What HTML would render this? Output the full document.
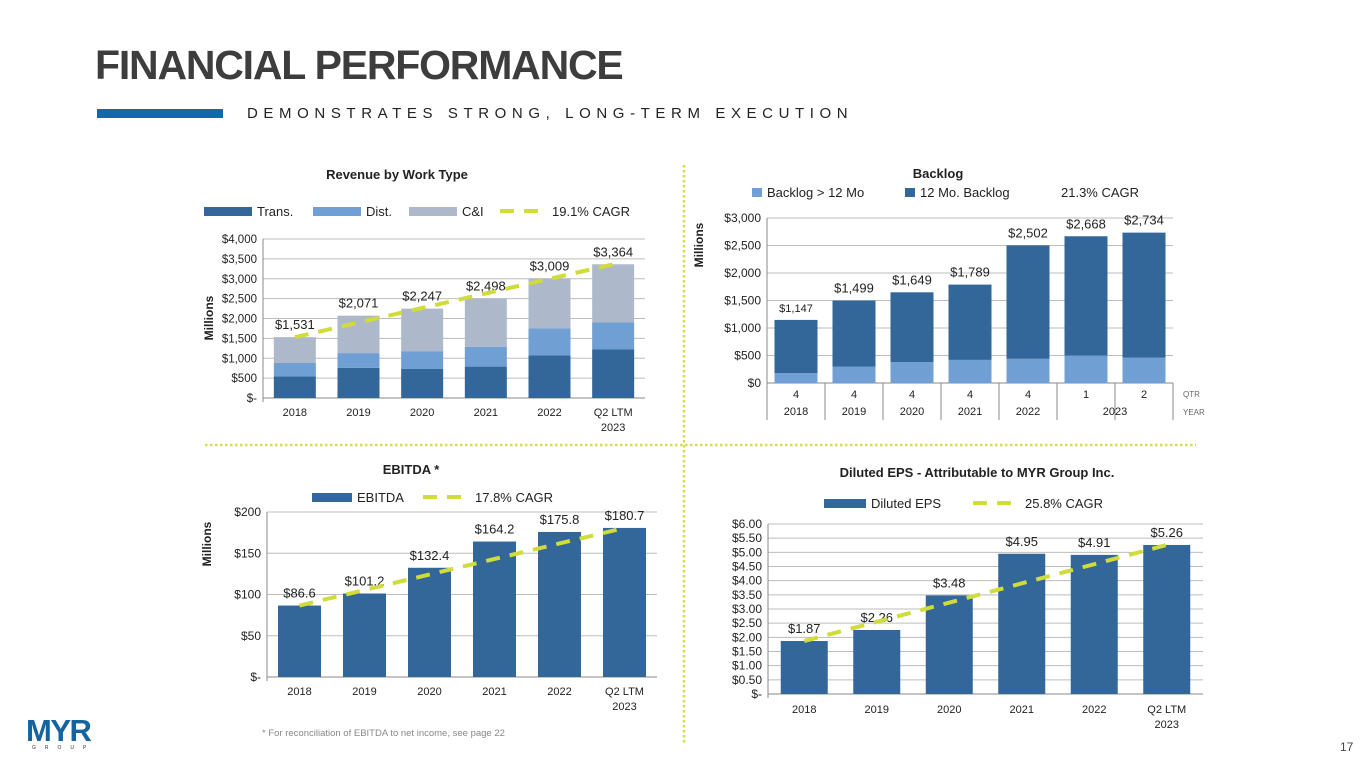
<!DOCTYPE html>
<html><head><meta charset="utf-8">
<style>
html,body{margin:0;padding:0;background:#fff;}
body{width:1365px;height:768px;position:relative;overflow:hidden;font-family:"Liberation Sans",sans-serif;}
.title{position:absolute;left:95px;top:42px;font-size:41px;font-weight:bold;color:#3d3d3d;letter-spacing:-1.2px;}
.bar{position:absolute;left:97px;top:109px;width:126px;height:9px;background:#0f6aa6;}
.sub{position:absolute;left:247px;top:105px;font-size:15px;letter-spacing:5.6px;color:#222;}
svg{position:absolute;left:0;top:0;}
</style></head><body>
<div class="title">FINANCIAL PERFORMANCE</div>
<div class="bar"></div>
<div class="sub">DEMONSTRATES STRONG, LONG-TERM EXECUTION</div>
<svg id="svg" width="1365" height="768" font-family="Liberation Sans, sans-serif">
  <line x1="684" y1="165" x2="684" y2="745" stroke="#d4df4a" stroke-width="2.5" stroke-dasharray="2.5,2.5"/>
  <line x1="205" y1="445" x2="1196" y2="445" stroke="#d4df4a" stroke-width="2.5" stroke-dasharray="2.5,2.5"/>
  <g>
    <text x="26" y="741" font-size="31" font-weight="bold" fill="#1464a0" letter-spacing="-1.5">MYR</text>
    <text x="32" y="749" font-size="5" fill="#333" letter-spacing="9">GROUP</text>
  </g>
  <text x="1340" y="751" font-size="12" fill="#444">17</text>
  <text x="262" y="736" font-size="9.5" fill="#888">* For reconciliation of EBITDA to net income, see page 22</text>
</svg>
<script>
// Revenue
const revCats = ["2018","2019","2020","2021","2022","Q2 LTM|2023"];
const revTrans = [540,760,730,790,1070,1220];
const revDist = [340,370,440,500,680,680];
const revTotal = [1531,2071,2247,2498,3009,3364];
const revLabels = ["$1,531","$2,071","$2,247","$2,498","$3,009","$3,364"];
const revTicks = [0,500,1000,1500,2000,2500,3000,3500,4000];
const revTickLabels = ["$-","$500","$1,000","$1,500","$2,000","$2,500","$3,000","$3,500","$4,000"];
// Backlog
const blQtr = ["4","4","4","4","4","1","2"];
const blYears = ["2018","2019","2020","2021","2022","2023"];
const blLong = [180,300,380,420,440,500,460];
const blTotal = [1147,1499,1649,1789,2502,2668,2734];
const blLabels = ["$1,147","$1,499","$1,649","$1,789","$2,502","$2,668","$2,734"];
const blTicks = [0,500,1000,1500,2000,2500,3000];
const blTickLabels = ["$0","$500","$1,000","$1,500","$2,000","$2,500","$3,000"];
// EBITDA
const ebCats = ["2018","2019","2020","2021","2022","Q2 LTM|2023"];
const ebVals = [86.6,101.2,132.4,164.2,175.8,180.7];
const ebLabels = ["$86.6","$101.2","$132.4","$164.2","$175.8","$180.7"];
const ebTicks = [0,50,100,150,200];
const ebTickLabels = ["$-","$50","$100","$150","$200"];
// EPS
const epsCats = ["2018","2019","2020","2021","2022","Q2 LTM|2023"];
const epsVals = [1.87,2.26,3.48,4.95,4.91,5.26];
const epsLabels = ["$1.87","$2.26","$3.48","$4.95","$4.91","$5.26"];
const epsTicks = [0,0.5,1,1.5,2,2.5,3,3.5,4,4.5,5,5.5,6];
const epsTickLabels = ["$-","$0.50","$1.00","$1.50","$2.00","$2.50","$3.00","$3.50","$4.00","$4.50","$5.00","$5.50","$6.00"];

const svg=document.getElementById('svg');
const NS="http://www.w3.org/2000/svg";
function mk(tag,attrs,parent){const e=document.createElementNS(NS,tag);for(const k in attrs)e.setAttribute(k,attrs[k]);(parent||svg).appendChild(e);return e;}
function txt(x,y,s,size,attrs,parent){const t=mk('text',Object.assign({x:x,y:y,'font-size':size,fill:'#222'},attrs||{}),parent);t.textContent=s;return t;}
const DARK="#336699", LIGHT="#6f9fd3", GREY="#adb9ca", CAGR="#cfdc3a";

function axes(g,cfg){
  const ys=v=>cfg.y0-(v-cfg.min)/(cfg.max-cfg.min)*(cfg.y0-cfg.y1);
  cfg.ticks.forEach((t,i)=>{
    const l=mk('line',{x1:cfg.x0,x2:cfg.x1,y1:ys(t),y2:ys(t),stroke:i===0?'#888':'#bdbdbd','stroke-width':1},g);
    
    
    const tl=txt(cfg.x0-6,ys(t)+4,cfg.tickLabels[i],cfg.tickSize||12,{'text-anchor':'end'},g);
    
    
  });
  mk('line',{x1:cfg.x0,x2:cfg.x0,y1:cfg.y1,y2:cfg.y0+4,stroke:'#888'},g);
  return ys;
}
function xlabels(g,cats,xc,y){
  cats.forEach((c,i)=>{
    const parts=c.split('|');
    parts.forEach((p,j)=>{
      const t=txt(xc(i),y+j*15,p,11,{'text-anchor':'middle'},g);
      
      
    });
  });
}
function cagrLine(g,xc,ys,first,last,n){
  const l=mk('line',{x1:xc(0),y1:ys(first),x2:xc(n-1),y2:ys(last),stroke:CAGR,'stroke-width':4,'stroke-dasharray':'14,10'},g);
  
  
}
function legendBox(g,x,y,w,color,label,name){
  const r=mk('rect',{x:x,y:y-9,width:w,height:9,fill:color},g);
  
  
  txt(x+w+5,y,label,13,{},g);
}
function legendDash(g,x,y,label){
  const l=mk('line',{x1:x,x2:x+45,y1:y-5,y2:y-5,stroke:CAGR,'stroke-width':4,'stroke-dasharray':'14,10'},g);
  
  
  txt(x+52,y,label,13,{},g);
}
function yTitle(g,x,y){
  txt(x,y,'Millions',12,{'font-weight':'bold',transform:`rotate(-90 ${x} ${y})`,'text-anchor':'middle'},g);
}

// ---- Revenue chart
(function(){
  const g=mk('g',{});
  
  
  txt(397,179,'Revenue by Work Type',13,{'font-weight':'bold','text-anchor':'middle'},g);
  legendBox(g,204,216,48,DARK,'Trans.','legend-trans');
  legendBox(g,313,216,48,LIGHT,'Dist.','legend-dist');
  legendBox(g,409,216,48,GREY,'C&I','legend-ci');
  legendDash(g,500,216,'19.1% CAGR');
  const x0=263,x1=645,n=revCats.length,step=(x1-x0)/n;
  const ys=axes(g,{x0:x0,x1:x1,y0:398,y1:239,min:0,max:4000,ticks:revTicks,tickLabels:revTickLabels,tickSize:11.5});
  const xc=i=>x0+step*(i+0.5);
  const bw=42;
  revCats.forEach((c,i)=>{
    const segs=[[0,revTrans[i],DARK,'bar-trans'],[revTrans[i],revTrans[i]+revDist[i],LIGHT,'bar-dist'],[revTrans[i]+revDist[i],revTotal[i],GREY,'bar-ci']];
    segs.forEach(s=>{
      const r=mk('rect',{x:xc(i)-bw/2,y:ys(s[1]),width:bw,height:ys(s[0])-ys(s[1]),fill:s[2]},g);
      
      
    });
    const t=txt(xc(i),ys(revTotal[i])-8,revLabels[i],13,{'text-anchor':'middle'},g);
    
    
  });
  cagrLine(g,xc,ys,revTotal[0],revTotal[n-1],n);
  xlabels(g,revCats,xc,416);
  yTitle(g,213,318);
})();

// ---- Backlog chart
(function(){
  const g=mk('g',{});
  
  
  txt(938,178,'Backlog',13,{'font-weight':'bold','text-anchor':'middle'},g);
  legendBox(g,752,197,10,LIGHT,'Backlog > 12 Mo','legend-backlog-long');
  legendBox(g,905,197,10,DARK,'12 Mo. Backlog','legend-backlog-12mo');
  txt(1061,197,'21.3% CAGR',13,{},g);
  const x0=767,x1=1173,n=blQtr.length,step=(x1-x0)/n;
  const ys=axes(g,{x0:x0,x1:x1,y0:383,y1:218,min:0,max:3000,ticks:blTicks,tickLabels:blTickLabels});
  const xc=i=>x0+step*(i+0.5);
  const bw=43;
  blQtr.forEach((q,i)=>{
    const r1=mk('rect',{x:xc(i)-bw/2,y:ys(blLong[i]),width:bw,height:ys(0)-ys(blLong[i]),fill:LIGHT},g);
    
    
    const r2=mk('rect',{x:xc(i)-bw/2,y:ys(blTotal[i]),width:bw,height:ys(blLong[i])-ys(blTotal[i]),fill:DARK},g);
    
    
    const t=txt(xc(i),ys(blTotal[i])-8,blLabels[i],i===0?11:13,{'text-anchor':'middle'},g);
    
    
    const qt=txt(xc(i),398,q,11,{'text-anchor':'middle'},g);
    
    
    mk('line',{x1:x0+step*i,x2:x0+step*i,y1:383,y2:420,stroke:'#888'},g);
  });
  mk('line',{x1:x1,x2:x1,y1:383,y2:420,stroke:'#888'},g);
  blYears.forEach((y,i)=>{
    const cx=i<5?xc(i):(xc(5)+xc(6))/2;
    const t=txt(cx,415,y,11,{'text-anchor':'middle'},g);
    
    
  });
  txt(1183,397,'QTR',8,{fill:'#666'},g);
  txt(1183,415,'YEAR',8,{fill:'#666'},g);
  yTitle(g,703,245);
})();

// ---- EBITDA chart
(function(){
  const g=mk('g',{});
  
  
  txt(411,474,'EBITDA *',13,{'font-weight':'bold','text-anchor':'middle'},g);
  legendBox(g,312,502,40,DARK,'EBITDA','legend-ebitda');
  legendDash(g,423,502,'17.8% CAGR');
  const x0=267,x1=657,n=ebCats.length,step=(x1-x0)/n;
  const ys=axes(g,{x0:x0,x1:x1,y0:677,y1:512,min:0,max:200,ticks:ebTicks,tickLabels:ebTickLabels});
  const xc=i=>x0+step*(i+0.5);
  const bw=43;
  ebVals.forEach((v,i)=>{
    const r=mk('rect',{x:xc(i)-bw/2,y:ys(v),width:bw,height:ys(0)-ys(v),fill:DARK},g);
    
    
    const t=txt(xc(i),ys(v)-8,ebLabels[i],13,{'text-anchor':'middle'},g);
    
    
  });
  cagrLine(g,xc,ys,ebVals[0],ebVals[n-1],n);
  xlabels(g,ebCats,xc,695);
  yTitle(g,211,544);
})();

// ---- EPS chart
(function(){
  const g=mk('g',{});
  
  
  txt(977,477,'Diluted EPS - Attributable to MYR Group Inc.',13,{'font-weight':'bold','text-anchor':'middle'},g);
  legendBox(g,824,508,42,DARK,'Diluted EPS','legend-eps');
  legendDash(g,973,508,'25.8% CAGR');
  const x0=768,x1=1203,n=epsCats.length,step=(x1-x0)/n;
  const ys=axes(g,{x0:x0,x1:x1,y0:694,y1:524,min:0,max:6,ticks:epsTicks,tickLabels:epsTickLabels,tickSize:12});
  const xc=i=>x0+step*(i+0.5);
  const bw=47;
  epsVals.forEach((v,i)=>{
    const r=mk('rect',{x:xc(i)-bw/2,y:ys(v),width:bw,height:ys(0)-ys(v),fill:DARK},g);
    
    
    const t=txt(xc(i),ys(v)-8,epsLabels[i],13,{'text-anchor':'middle'},g);
    
    
  });
  cagrLine(g,xc,ys,epsVals[0],epsVals[n-1],n);
  xlabels(g,epsCats,xc,713);
})();
</script>
</body></html>
